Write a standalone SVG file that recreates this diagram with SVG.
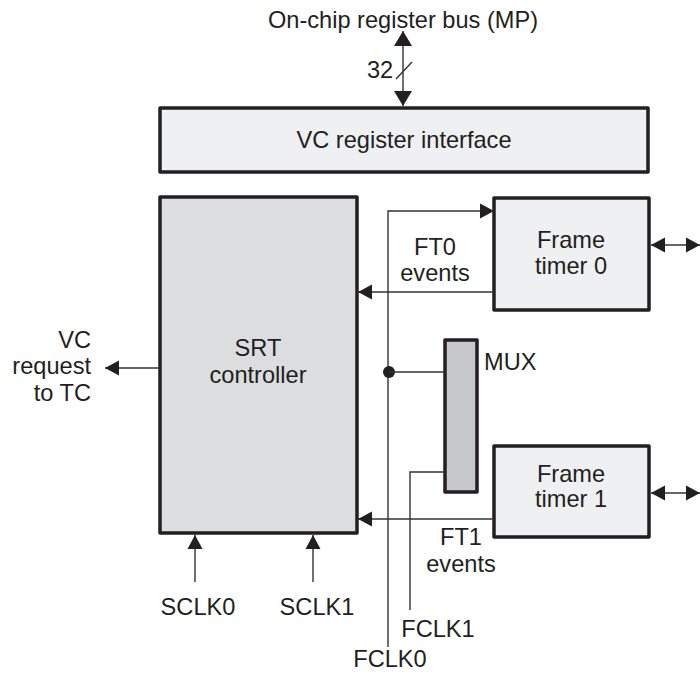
<svg xmlns="http://www.w3.org/2000/svg" width="700" height="675" viewBox="0 0 700 675">
<style>
text{font-family:"Liberation Sans",Arial,sans-serif;font-size:23.6px;fill:#231f20}
.m{text-anchor:middle}
.e{text-anchor:end}
.box{stroke:#231f20;stroke-width:3.5;stroke-linejoin:round}
.lt{fill:#eff0f2}
.srt{fill:#dcdddf}
.mux{fill:#c6c7c9}
.ln{fill:none;stroke:#333;stroke-width:1.4}
</style>
<defs>
<marker id="a" markerUnits="userSpaceOnUse" markerWidth="16" markerHeight="16" refX="14" refY="8" orient="auto-start-reverse" viewBox="0 0 16 16">
<path d="M0,0.5 L14,8 L0,15.5 Z" fill="#231f20"/>
</marker>
<marker id="ab" markerUnits="userSpaceOnUse" markerWidth="16" markerHeight="18" refX="15" refY="9" orient="auto-start-reverse" viewBox="0 0 16 18">
<path d="M0,0 L15,9 L0,18 Z" fill="#231f20"/>
</marker>
</defs>

<g id="bus">
<text class="m" x="403" y="28">On-chip register bus (MP)</text>
<text x="367" y="78">32</text>
</g>

<g id="vc-register-interface">
<rect class="box lt" x="160" y="108" width="488" height="64"/>
<text class="m" x="404" y="148">VC register interface</text>
</g>

<g id="srt-controller">
<rect class="box srt" x="160" y="197" width="197" height="336"/>
<text class="m" x="258" y="356">SRT</text>
<text class="m" x="258" y="383">controller</text>
</g>

<g id="frame-timer-0">
<rect class="box lt" x="494" y="198" width="155" height="112"/>
<text class="m" x="571" y="248">Frame</text>
<text class="m" x="571" y="274">timer 0</text>
</g>

<g id="frame-timer-1">
<rect class="box lt" x="494" y="446" width="155" height="91"/>
<text class="m" x="571" y="482">Frame</text>
<text class="m" x="571" y="507">timer 1</text>
</g>

<g id="mux">
<rect class="box mux" x="445" y="340" width="32" height="152"/>
<text x="484" y="370">MUX</text>
</g>

<g id="labels">
<text class="e" x="91" y="348">VC</text>
<text class="e" x="91" y="374">request</text>
<text class="e" x="91" y="401">to TC</text>
<text class="m" x="435" y="255">FT0</text>
<text class="m" x="435" y="281">events</text>
<text class="m" x="461" y="545">FT1</text>
<text class="m" x="461" y="572">events</text>
<text class="m" x="198" y="615">SCLK0</text>
<text class="m" x="317" y="615">SCLK1</text>
<text class="m" x="438" y="637">FCLK1</text>
<text class="m" x="390" y="667">FCLK0</text>
</g>

<g id="connectors">
<line class="ln" x1="403" y1="31" x2="403" y2="106" marker-start="url(#ab)" marker-end="url(#ab)"/>
<line class="ln" x1="396" y1="79" x2="412" y2="62"/>
<polyline class="ln" points="388,647 388,211 494,211" marker-end="url(#a)"/>
<line class="ln" x1="494" y1="292" x2="358" y2="292" marker-end="url(#a)"/>
<line class="ln" x1="494" y1="519" x2="358" y2="519" marker-end="url(#a)"/>
<circle cx="389" cy="372" r="6" fill="#231f20"/>
<line class="ln" x1="389" y1="372" x2="445" y2="372"/>
<polyline class="ln" points="445,472 410,472 410,610"/>
<line class="ln" x1="159" y1="368" x2="105" y2="368" marker-end="url(#a)"/>
<line class="ln" x1="195" y1="582" x2="195" y2="535" marker-end="url(#a)"/>
<line class="ln" x1="313" y1="582" x2="313" y2="535" marker-end="url(#a)"/>
<line class="ln" x1="651" y1="245" x2="700" y2="245" marker-start="url(#a)" marker-end="url(#a)"/>
<line class="ln" x1="651" y1="493" x2="700" y2="493" marker-start="url(#a)" marker-end="url(#a)"/>
</g>
</svg>
